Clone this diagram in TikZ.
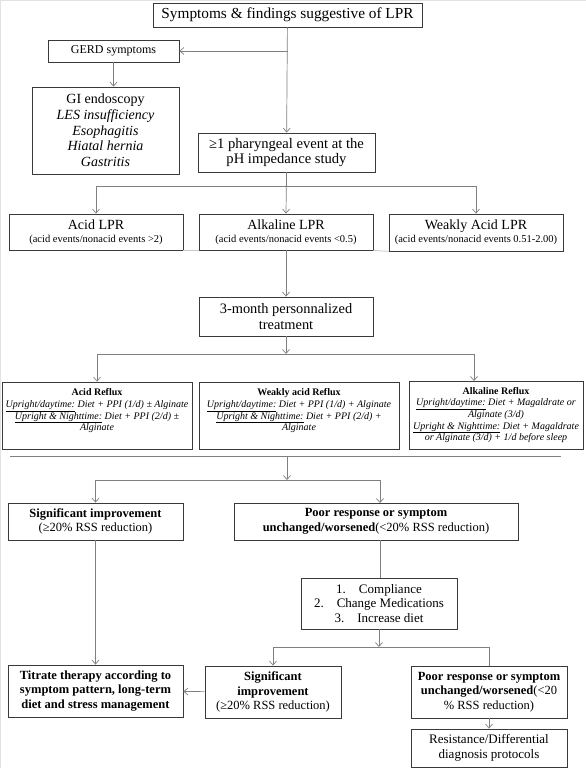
\documentclass[tikz,border=0pt]{standalone}
\usepackage{fontspec}
\setmainfont{Liberation Serif}
\usetikzlibrary{arrows.meta}
\definecolor{boxc}{HTML}{3A3A3A}
\definecolor{linec}{HTML}{808080}
\definecolor{faint}{HTML}{C8C8C8}
\definecolor{edgec}{HTML}{E2E2E2}
\newcommand\myfs[2]{\fontsize{#1}{#2}\selectfont}
\tikzset{
  box/.style={draw=boxc, line width=0.8pt, inner sep=1pt, align=center, text=black},
  conn/.style={draw=linec, line width=0.7pt},
  arr/.style={conn, -{Straight Barb[length=4pt,width=7pt]}},
}
\begin{document}
\begin{tikzpicture}[x=1pt,y=-1pt]
\useasboundingbox (0,0) rectangle (586,768);
\fill[white] (0,0) rectangle (586,768);
\draw[edgec, line width=1.2pt] (0.6,768) -- (0.6,0.6) -- (586,0.6);

% boxes
\node[box, minimum width=269pt, minimum height=24pt, font=\myfs{15.3}{16}] (title) at (287.5,15) {Symptoms \& findings suggestive of LPR};
\node[box, minimum width=131pt, minimum height=22pt, font=\myfs{12}{12}] (gerd) at (113.5,51) {GERD symptoms};
\node[box, minimum width=147pt, minimum height=87pt, font=\myfs{14}{15.7}] (gi) at (105.5,130.5) {GI endoscopy\\ \textit{LES insufficiency}\\ \textit{Esophagitis}\\ \textit{Hiatal hernia}\\ \textit{Gastritis}};
\node[box, minimum width=177pt, minimum height=39pt, font=\myfs{14.6}{15.8}] (ph) at (286.5,152.5) {≥1 pharyngeal event at the\\ pH impedance study};

\node[box, minimum width=174pt, minimum height=36pt, font=\myfs{14}{14}] (acid) at (96,232) {Acid LPR\\[-1pt] {\myfs{10.5}{11}(acid events/nonacid events >2)}};
\node[box, minimum width=174pt, minimum height=36pt, font=\myfs{14}{14}] (alk) at (286,232) {Alkaline LPR\\[-1pt] {\myfs{10.5}{11}(acid events/nonacid events <0.5)}};
\node[box, minimum width=174pt, minimum height=37pt, font=\myfs{14}{14}] (weak) at (476,232.5) {Weakly Acid LPR\\[-1pt] {\myfs{10.5}{11}(acid events/nonacid events 0.51-2.00)}};

\node[box, minimum width=174pt, minimum height=39pt, font=\myfs{14.4}{15.8}] (tre) at (286,316.5) {3-month personnalized\\ treatment};

\node[box, minimum width=190pt, minimum height=67pt, font=\myfs{10}{11.7}] (ar) at (97,415.5) {\textbf{Acid Reflux}\\ \textit{\underline{Upright/daytime:} Diet + PPI (1/d) ± Alginate}\\ \textit{\underline{Upright \& Nighttime:} Diet + PPI (2/d) ±}\\ \textit{Alginate}\\ ~};
\node[box, minimum width=200pt, minimum height=67pt, font=\myfs{10}{11.7}] (wr) at (299,415.5) {\textbf{Weakly acid Reflux}\\ \textit{\underline{Upright/daytime:} Diet + PPI (1/d) + Alginate}\\ \textit{\underline{Upright \& Nighttime:} Diet + PPI (2/d) +}\\ \textit{Alginate}\\ ~};
\node[box, minimum width=174pt, minimum height=68pt, font=\myfs{10}{11.7}] (kr) at (496,415) {\textbf{Alkaline Reflux}\\ \textit{\underline{Upright/daytime:} Diet + Magaldrate or}\\ \textit{Alginate (3/d)}\\ \textit{\underline{Upright \& Nighttime:} Diet + Magaldrate}\\ \textit{or Alginate (3/d) + 1/d before sleep}};

\node[box, minimum width=175pt, minimum height=37pt, font=\myfs{12.5}{14.5}] (sig) at (95.5,521.5) {\textbf{Significant improvement}\\ (≥20\% RSS reduction)};
\node[box, minimum width=284pt, minimum height=37pt, font=\myfs{12.5}{14.5}] (poor) at (376,521.5) {\textbf{Poor response or symptom}\\ \textbf{unchanged/worsened}(<20\% RSS reduction)};
\node[box, minimum width=156pt, minimum height=51pt, font=\myfs{13}{14.5}] (comp) at (379,603.5) {1.\quad Compliance\\ 2.\quad Change Medications\\ 3.\quad Increase diet};
\node[box, minimum width=175pt, minimum height=52pt, font=\myfs{12.5}{14.5}] (tit) at (95.5,691) {\textbf{Titrate therapy according to}\\ \textbf{symptom pattern, long-term}\\ \textbf{diet and stress management}};
\node[box, minimum width=136pt, minimum height=52pt, font=\myfs{12.5}{14.5}] (sig2) at (273,692) {\textbf{Significant}\\ \textbf{improvement}\\ (≥20\% RSS reduction)};
\node[box, minimum width=156pt, minimum height=52pt, font=\myfs{12.5}{14.5}] (poor2) at (489,692) {\textbf{Poor response or symptom}\\ \textbf{unchanged/worsened}(<20\\ \% RSS reduction)};
\node[box, minimum width=156pt, minimum height=38pt, font=\myfs{13}{14.5}] (res) at (489,748) {Resistance/Differential\\ diagnosis protocols};

% junctions
\coordinate (j1) at (287.5,51);
\coordinate (j2) at (286.5,186);
\coordinate (j3) at (286,354);
\coordinate (kin) at (474,381);
\coordinate (hl1) at (10,456);
\coordinate (hl2) at (561,456);
\coordinate (hm) at (287,456);
\coordinate (j4) at (287,480);
\coordinate (pin) at (380,503);
\coordinate (pout) at (380,540);
\coordinate (j5) at (379,647);

% connectors
\draw[arr] (title) -- (ph);
\draw[arr] (j1) -- (gerd.east);
\draw[arr] (gerd.south) -- (gerd.south |- gi.north);
\draw[conn] (ph.south) -- (j2);
\draw[arr] (j2) -| (acid.north);
\draw[arr] (j2) -| (weak.north);
\draw[arr] (ph.south) -- (alk.north);
\draw[faint, line width=0.8pt] (acid.south east) -- (alk.south west);
\draw[faint, line width=0.8pt] (alk.south east) -- (weak.south west);
\draw[arr] (alk) -- (tre);
\draw[arr] (tre.south) -- (j3);
\draw[arr] (j3) -| (ar.north);
\draw[arr] (j3) -| (kin);
\draw[conn] (hl1) -- (hl2);
\draw[arr] (hm) -- (j4);
\draw[arr] (j4) -| (sig.north);
\draw[arr] (j4) -| (pin);
\draw[arr] (sig) -- (tit);
\draw[conn] (pout) -- (pout |- comp.north);
\draw[arr] (comp.south) -- (j5);
\draw[arr] (j5) -| (sig2.north);
\draw[conn] (j5) -| (poor2.north);
\draw[arr] (sig2) -- (tit);
\draw[arr] (poor2) -- (res);
\end{tikzpicture}
\end{document}
